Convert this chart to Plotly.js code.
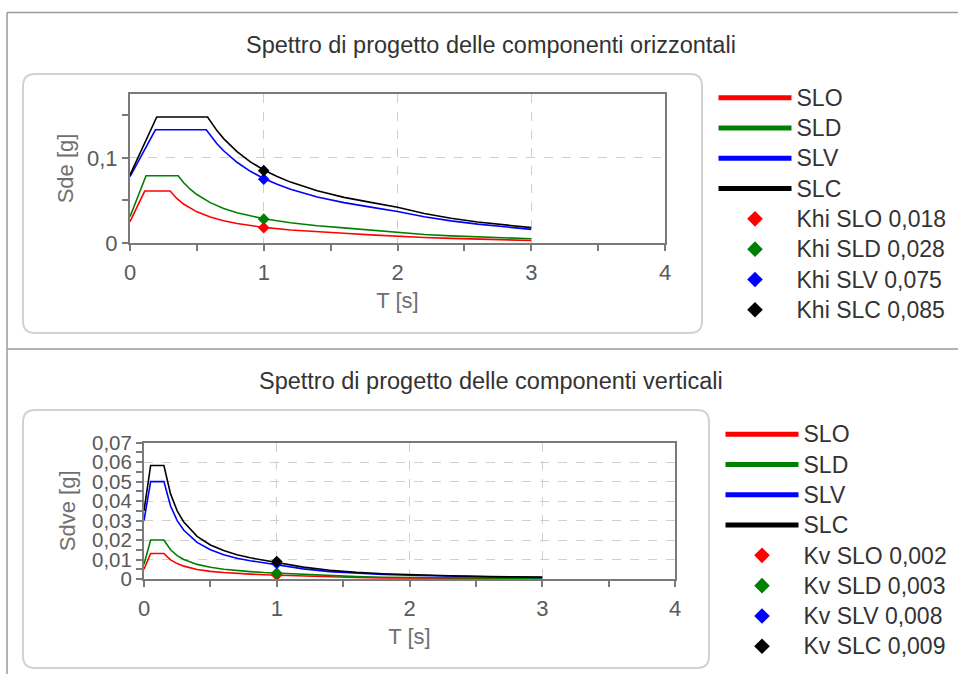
<!DOCTYPE html>
<html>
<head>
<meta charset="utf-8">
<script src="https://cdn.plot.ly/plotly-3.0.1.min.js"></script>
<style>
html,body{margin:0;padding:0;background:#ffffff;}
#chart{width:958px;height:674px;}
</style>
</head>
<body>
<div id="chart"></div>
<script>
// ---------- DATA ----------
const seriesNames = ['SLO', 'SLD', 'SLV', 'SLC'];
const seriesColors = ['#ff0000', '#008000', '#0000ff', '#000000'];

// Horizontal components spectrum (Sde [g]) vs T [s]
const hT_SLO = [0, 0.11, 0.30, 0.35, 0.40, 0.50, 0.60, 0.70, 0.80, 0.90, 1.00, 1.20, 1.40, 1.60, 1.80, 2.00, 2.20, 2.40, 2.60, 2.80, 3.00];
const hS_SLO = [0.025, 0.061, 0.061, 0.0523, 0.0458, 0.0366, 0.0305, 0.0261, 0.0229, 0.0203, 0.0183, 0.0153, 0.0131, 0.0114, 0.0096, 0.0078, 0.0064, 0.0054, 0.0045, 0.0037, 0.0030];

const hT_SLD = [0, 0.12, 0.36, 0.40, 0.45, 0.50, 0.60, 0.70, 0.80, 0.90, 1.00, 1.20, 1.40, 1.60, 1.80, 2.00, 2.20, 2.40, 2.60, 2.80, 3.00];
const hS_SLD = [0.031, 0.079, 0.079, 0.0711, 0.0632, 0.0569, 0.0474, 0.0406, 0.0356, 0.0316, 0.0284, 0.0237, 0.0203, 0.0178, 0.0150, 0.0121, 0.0100, 0.0084, 0.0071, 0.0060, 0.0050];

const hT_SLV = [0, 0.19, 0.57, 0.65, 0.70, 0.80, 0.90, 1.00, 1.10, 1.20, 1.40, 1.60, 1.80, 2.00, 2.20, 2.40, 2.60, 2.80, 3.00];
const hS_SLV = [0.078, 0.133, 0.133, 0.1166, 0.1083, 0.0948, 0.0842, 0.0758, 0.0689, 0.0632, 0.0541, 0.0474, 0.0421, 0.0370, 0.0308, 0.0260, 0.0222, 0.0190, 0.0160];

const hT_SLC = [0, 0.20, 0.58, 0.65, 0.70, 0.80, 0.90, 1.00, 1.10, 1.20, 1.40, 1.60, 1.80, 2.00, 2.20, 2.40, 2.60, 2.80, 3.00];
const hS_SLC = [0.080, 0.148, 0.148, 0.1320, 0.1226, 0.1073, 0.0953, 0.0858, 0.0780, 0.0715, 0.0613, 0.0536, 0.0477, 0.0420, 0.0346, 0.0290, 0.0247, 0.0210, 0.0180];

// Khi points at T = 1 s
const khiT = 1;
const khiValues = [0.018, 0.028, 0.075, 0.085];
const khiLabels = ['Khi SLO 0,018', 'Khi SLD 0,028', 'Khi SLV 0,075', 'Khi SLC 0,085'];

// Vertical components spectrum (Sdve [g]) vs T [s]
const vT = [0, 0.05, 0.15, 0.20, 0.25, 0.30, 0.40, 0.50, 0.60, 0.70, 0.80, 0.90, 1.00, 1.20, 1.40, 1.60, 1.80, 2.00, 2.30, 2.60, 3.00];
const vS_SLO = [0.0050, 0.0131, 0.0131, 0.0098, 0.0079, 0.0066, 0.0049, 0.0039, 0.0033, 0.0028, 0.0025, 0.0022, 0.0020, 0.0014, 0.0010, 0.0008, 0.0006, 0.0005, 0.0004, 0.0003, 0.0002];
const vS_SLD = [0.0075, 0.0200, 0.0200, 0.0150, 0.0120, 0.0100, 0.0075, 0.0060, 0.0050, 0.0043, 0.0038, 0.0033, 0.0030, 0.0021, 0.0015, 0.0012, 0.0009, 0.00075, 0.0006, 0.0004, 0.0003];
const vS_SLV = [0.0300, 0.0500, 0.0500, 0.0375, 0.0300, 0.0250, 0.0188, 0.0150, 0.0125, 0.0107, 0.0094, 0.0083, 0.0075, 0.0052, 0.0038, 0.0029, 0.0023, 0.0019, 0.0014, 0.0011, 0.0008];
const vS_SLC = [0.0350, 0.0583, 0.0583, 0.0437, 0.0350, 0.0292, 0.0219, 0.0175, 0.0146, 0.0125, 0.0109, 0.0097, 0.0088, 0.0061, 0.0045, 0.0034, 0.0027, 0.0022, 0.0017, 0.0013, 0.0010];

// Kv points at T = 1 s
const kvT = 1;
const kvValues = [0.002, 0.003, 0.008, 0.009];
const kvLabels = ['Kv SLO 0,002', 'Kv SLD 0,003', 'Kv SLV 0,008', 'Kv SLC 0,009'];

const titleTop = 'Spettro di progetto delle componenti orizzontali';
const titleBottom = 'Spettro di progetto delle componenti verticali';

// ---------- GEOMETRY HELPERS (pixel -> paper; no margins) ----------
const W = 958, H = 674;
const px = v => v / W;
const py = v => 1 - v / H;
const legText = s => '<span style="font-size:23px">' + s + '</span>';

// ---------- TRACES ----------
const hT = [hT_SLO, hT_SLD, hT_SLV, hT_SLC];
const hS = [hS_SLO, hS_SLD, hS_SLV, hS_SLC];
const vS = [vS_SLO, vS_SLD, vS_SLV, vS_SLC];

const traces = [];
for (let i = 0; i < 4; i++) {
  traces.push({
    type: 'scatter', mode: 'lines', x: hT[i], y: hS[i], name: legText(seriesNames[i]),
    line: {color: seriesColors[i], width: 1.6}, xaxis: 'x', yaxis: 'y', legend: 'legend'
  });
}
for (let i = 0; i < 4; i++) {
  traces.push({
    type: 'scatter', mode: 'markers', x: [khiT], y: [khiValues[i]], name: legText(khiLabels[i]),
    marker: {color: seriesColors[i], symbol: 'diamond', size: 9}, xaxis: 'x', yaxis: 'y', legend: 'legend'
  });
}
for (let i = 0; i < 4; i++) {
  traces.push({
    type: 'scatter', mode: 'lines', x: vT, y: vS[i], name: legText(seriesNames[i]),
    line: {color: seriesColors[i], width: 1.6}, xaxis: 'x2', yaxis: 'y2', legend: 'legend2'
  });
}
for (let i = 0; i < 4; i++) {
  traces.push({
    type: 'scatter', mode: 'markers', x: [kvT], y: [kvValues[i]], name: legText(kvLabels[i]),
    marker: {color: seriesColors[i], symbol: 'diamond', size: 9}, xaxis: 'x2', yaxis: 'y2', legend: 'legend2'
  });
}

// ---------- LAYOUT ----------
const FONT = 'Liberation Sans, Arial, sans-serif';
const axisLine = '#7a7a7a';
const tickFont = {family: FONT, size: 22, color: '#5a5a5a'};
const tickFontSmall = {family: FONT, size: 20.5, color: '#5a5a5a'};
const axTitleFont = {family: FONT, size: 22, color: '#707070'};

function xAxis(domain, anchor) {
  return {
    domain: domain, anchor: anchor, range: [0, 4], dtick: 1, tick0: 0,
    showline: true, linecolor: axisLine, linewidth: 2, mirror: true,
    ticks: 'outside', ticklen: 6, tickwidth: 2, tickcolor: axisLine,
    ticklabelstandoff: 3,
    showgrid: true, gridcolor: '#cfcfcf', griddash: 'dash', gridwidth: 1,
    zeroline: false, tickfont: tickFont, automargin: true,
    minor: {dtick: 0.5, ticks: 'outside', ticklen: 6, tickwidth: 2, tickcolor: axisLine, showgrid: false},
    title: {text: 'T [s]', font: axTitleFont, standoff: 8},
    fixedrange: true
  };
}
function yAxis(domain, anchor, range, dtick, minorDtick, title, standoff, tf) {
  return {
    domain: domain, anchor: anchor, range: range, dtick: dtick, tick0: 0,
    showline: true, linecolor: axisLine, linewidth: 2, mirror: true,
    ticks: 'outside', ticklen: 6, tickwidth: 2, tickcolor: axisLine,
    showgrid: true, gridcolor: '#cfcfcf', griddash: 'dash', gridwidth: 1,
    zeroline: false, tickfont: tf, automargin: true,
    minor: {dtick: minorDtick, ticks: 'outside', ticklen: 6, tickwidth: 2, tickcolor: axisLine, showgrid: false},
    title: {text: title, font: axTitleFont, standoff: standoff},
    fixedrange: true
  };
}

function roundRect(x0, y0, x1, y1, r) {
  const X = v => px(v), Y = v => py(v);
  return 'M' + X(x0 + r) + ',' + Y(y0) +
    ' L' + X(x1 - r) + ',' + Y(y0) +
    ' Q' + X(x1) + ',' + Y(y0) + ' ' + X(x1) + ',' + Y(y0 + r) +
    ' L' + X(x1) + ',' + Y(y1 - r) +
    ' Q' + X(x1) + ',' + Y(y1) + ' ' + X(x1 - r) + ',' + Y(y1) +
    ' L' + X(x0 + r) + ',' + Y(y1) +
    ' Q' + X(x0) + ',' + Y(y1) + ' ' + X(x0) + ',' + Y(y1 - r) +
    ' L' + X(x0) + ',' + Y(y0 + r) +
    ' Q' + X(x0) + ',' + Y(y0) + ' ' + X(x0 + r) + ',' + Y(y0) + ' Z';
}

const frameColor = '#9a9a9a';
const boxColor = '#d2d2d2';
const shapes = [
  {type: 'line', xref: 'paper', yref: 'paper', x0: px(7), x1: px(958), y0: py(12.5), y1: py(12.5), line: {color: frameColor, width: 1.5}, layer: 'below'},
  {type: 'line', xref: 'paper', yref: 'paper', x0: px(7), x1: px(7), y0: py(12.5), y1: py(674), line: {color: frameColor, width: 1.5}, layer: 'below'},
  {type: 'line', xref: 'paper', yref: 'paper', x0: px(7), x1: px(958), y0: py(349), y1: py(349), line: {color: frameColor, width: 1.5}, layer: 'below'},
  {type: 'path', xref: 'paper', yref: 'paper', path: roundRect(23, 74, 702, 333, 12), line: {color: boxColor, width: 2}, layer: 'below'},
  {type: 'path', xref: 'paper', yref: 'paper', path: roundRect(23, 410, 709, 668, 12), line: {color: boxColor, width: 2}, layer: 'below'}
];

const titleFont = {family: FONT, size: 23.5, color: '#333333'};
const annotations = [
  {text: titleTop, xref: 'paper', yref: 'paper', x: px(491), y: py(45), xanchor: 'center', yanchor: 'middle', showarrow: false, font: titleFont},
  {text: titleBottom, xref: 'paper', yref: 'paper', x: px(491), y: py(381), xanchor: 'center', yanchor: 'middle', showarrow: false, font: titleFont}
];

const legendFont = {family: FONT, size: 21, color: '#333333'};
const legendCommon = {xanchor: 'left', yanchor: 'top', font: legendFont, itemwidth: 73, itemsizing: 'constant', bgcolor: 'rgba(0,0,0,0)', borderwidth: 0, tracegroupgap: 0, itemclick: false, itemdoubleclick: false};
const layout = {
  width: W, height: H,
  margin: {l: 0, r: 0, t: 0, b: 0, pad: 0, autoexpand: false},
  paper_bgcolor: '#ffffff', plot_bgcolor: '#ffffff',
  separators: ',.',
  font: {family: FONT},
  showlegend: true,
  xaxis: xAxis([px(130), px(665)], 'y'),
  yaxis: yAxis([py(243), py(94)], 'x', [0, 0.175], 0.1, 0.05, 'Sde [g]', 7, tickFont),
  xaxis2: xAxis([px(144), px(675)], 'y2'),
  yaxis2: yAxis([py(579), py(442.7)], 'x2', [0, 0.07], 0.01, 0.005, 'Sdve [g]', 10, tickFontSmall),
  legend: Object.assign({}, legendCommon, {x: px(713.5), y: py(77.5)}),
  legend2: Object.assign({}, legendCommon, {x: px(720.5), y: py(414)}),
  shapes: shapes,
  annotations: annotations
};

Plotly.newPlot('chart', traces, layout, {staticPlot: true, displayModeBar: false});
</script>
</body>
</html>
